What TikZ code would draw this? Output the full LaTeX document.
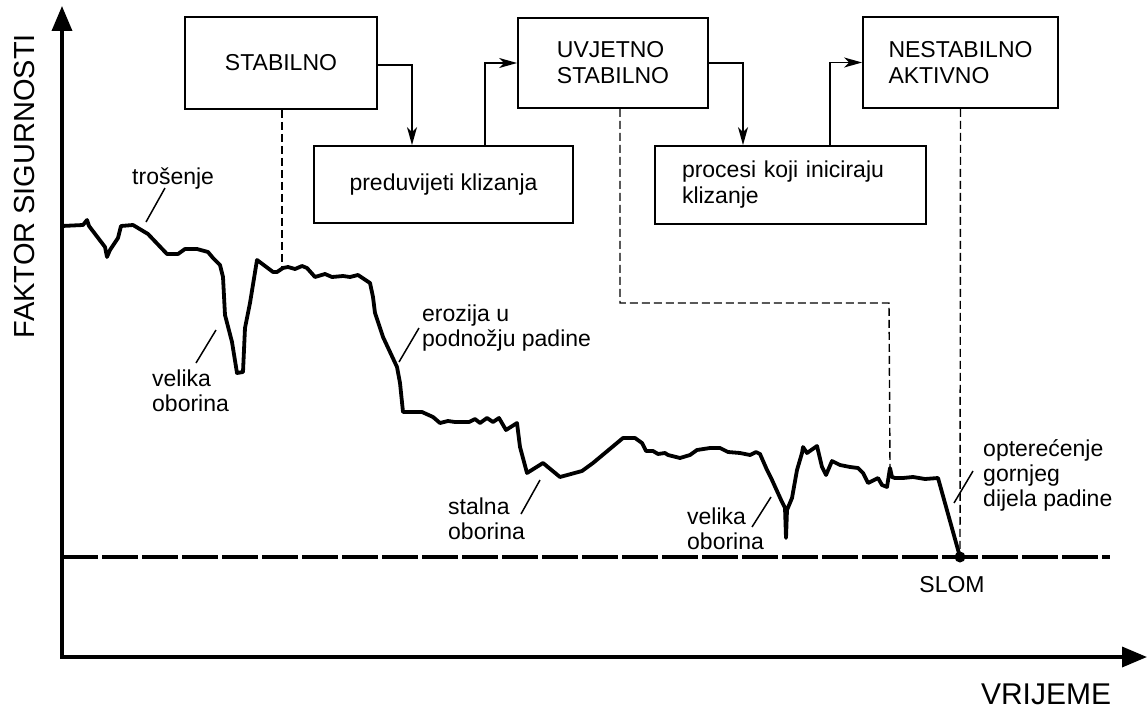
\documentclass[tikz,border=0pt]{standalone}
\usepackage{fontspec}
\setmainfont{Liberation Sans}
\usetikzlibrary{arrows.meta}
\begin{document}
\begin{tikzpicture}[x=1pt,y=-1pt,
  box/.style={draw, line width=1.8pt, inner sep=0pt, align=left, font=\fontsize{23}{26}\selectfont},
  lab/.style={anchor=north west, inner sep=0pt, align=left, font=\fontsize{23}{25}\selectfont},
  axis/.style={line width=3.5pt, -{Triangle[length=25pt,width=20pt]}},
  conn/.style={line width=1.8pt, -{Stealth[length=18pt,width=10pt,inset=5pt]}},
  guide/.style={line width=1.4pt, dash pattern=on 8pt off 4pt},
  leader/.style={line width=1.5pt},
  curve/.style={line width=3.8pt, line join=round, line cap=round}]
\useasboundingbox (0,0) rectangle (1148,709);

% axes
\coordinate (O) at (62,657);
\coordinate (ytop) at (62,6);
\coordinate (xend) at (1147,657);
\draw[axis] ([yshift=-1.75pt]O) -- (ytop);
\draw[axis] (O) -- (xend);
\node[rotate=90, inner sep=0pt, font=\fontsize{29}{32}\selectfont] (ylab) at (25,186) {FAKTOR SIGURNOSTI};
\node[inner sep=0pt, font=\fontsize{30}{32}\selectfont] (xlab) at (1046,694) {VRIJEME};

% threshold line
\coordinate (th0) at (62,557);
\coordinate (th1) at (1110,557);
\draw[line width=3.5pt, dash pattern=on 36pt off 4pt] (th0) -- (th1);
\node[circle, fill, inner sep=0pt, minimum size=11pt] (slom) at (960,557) {};
\node[inner sep=0pt, font=\fontsize{23}{26}\selectfont] (slomlab) at (952,585) {SLOM};

% boxes
\node[box, minimum width=192pt, minimum height=92pt] (stab) at (281,63) {STABILNO};
\node[box, minimum width=259pt, minimum height=77pt] (pred) at (443.5,184.5) {preduvijeti klizanja};
\node[box, minimum width=190pt, minimum height=90pt] (uvj) at (613,63) {UVJETNO\\STABILNO};
\node[box, inner xsep=27pt, text width=217pt, minimum height=78pt] (proc) at (790.5,185) {procesi koji iniciraju\\klizanje};
\node[box, minimum width=195pt, minimum height=91pt] (nest) at (960.5,62.5) {NESTABILNO\\AKTIVNO};

% connectors
\draw[conn] ([yshift=-2pt]stab.east) -| ([xshift=-31.5pt]pred.north);
\draw[conn] ([xshift=41.5pt]pred.north) |- (uvj.west);
\draw[conn] (uvj.east) -| ([xshift=-47.5pt]proc.north);
\draw[conn] ([xshift=39.5pt]proc.north) |- (nest.west);

% curve
\coordinate (c0) at (62,226);
\coordinate (cstab) at (282,267);
\coordinate (cspike) at (890,468);
\draw[curve] (c0) -- (83,225) -- (87,220) -- (89,226) -- (105,247) -- (107,257) -- (110,250)
 -- (118,238) -- (121,226) -- (133,225) -- (148,234) -- (167,254) -- (178,254) -- (185,249)
 -- (197,249) -- (208,252) -- (213,258) -- (220,265) -- (223,277) -- (225,315) -- (232,342)
 -- (237,373) -- (243,372) -- (245,328) -- (250,303) -- (257,260) -- (273,272) -- (277,272)
 -- (283,268) -- (288,267) -- (295,269) -- (302,266) -- (307,268) -- (315,277) -- (325,274)
 -- (332,277) -- (343,276) -- (350,277) -- (358,275) -- (370,283) -- (373,297) -- (375,313)
 -- (383,337) -- (397,367) -- (400,383) -- (403,412) -- (422,412) -- (433,417) -- (440,423)
 -- (448,421) -- (455,422) -- (469,422) -- (475,419) -- (480,423) -- (487,418) -- (493,422)
 -- (499,418) -- (506,430) -- (517,423) -- (520,447) -- (527,473) -- (543,463) -- (560,477)
 -- (582,471) -- (593,463) -- (623,438) -- (635,438) -- (642,443) -- (646,451) -- (653,451)
 -- (658,454) -- (665,453) -- (668,455) -- (680,458) -- (690,455) -- (697,450) -- (710,448)
 -- (720,448) -- (728,452) -- (740,453) -- (750,455) -- (756,452) -- (760,454) -- (767,470)
 -- (772,480) -- (782,502) -- (785,508) -- (786,538) -- (787,510) -- (792,498) -- (797,470)
 -- (802,453) -- (803,447) -- (807,453) -- (817,446) -- (822,467) -- (826,475) -- (832,461)
 -- (840,465) -- (850,467) -- (858,468) -- (863,473) -- (868,483) -- (878,478) -- (882,485)
 -- (887,487) -- (cspike) -- (892,477) -- (895,478) -- (903,478) -- (913,477) -- (925,479)
 -- (938,478) -- (slom.center);

% dashed guides
\coordinate (bend) at (889,303);
\draw[guide] ([xshift=1pt]stab.south) -- (cstab);
\draw[guide] ([xshift=7pt]uvj.south) |- (bend) -- (cspike);
\draw[guide] (nest.south) -- (slom);

% labels
\node[lab] (l1) at (132,168) {trošenje};
\node[lab] (l2) at (152,370) {velika\\oborina};
\node[lab] (l3) at (422,305) {erozija u\\podnožju padine};
\node[lab] (l4) at (448,498) {stalna\\oborina};
\node[lab] (l5) at (687,508) {velika\\oborina};
\node[lab] (l6) at (983,439) {opterećenje\\gornjeg\\dijela padine};

% leader lines
\draw[leader] (165,188) -- (146,222);
\draw[leader] (216,330) -- (196,363);
\draw[leader] (419,328) -- (399,362);
\draw[leader] (540,480) -- (521,514);
\draw[leader] (771,497) -- (752,527);
\draw[leader] (973,471) -- (954,503);
\end{tikzpicture}
\end{document}
